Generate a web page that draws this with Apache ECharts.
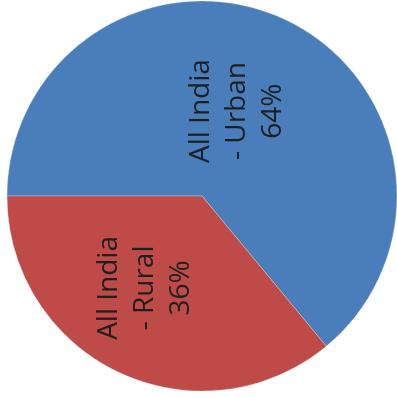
<!DOCTYPE html>
<html>
<head>
<meta charset="utf-8">
<script src="https://cdn.jsdelivr.net/npm/echarts@6/dist/echarts.min.js"></script>
<style>
  html, body { margin: 0; padding: 0; background: #fff; }
  #chart { width: 397px; height: 398px; }
</style>
</head>
<body>
<div id="chart"></div>
<script>
// Share of population by area
const categories = ['All India\n- Urban', 'All India\n- Rural'];
const shares = [64, 36];
const sliceColors = ['#4A7EBB', '#BE4B48'];
// screen-space nudges [right, down] so each label sits toward the slice's centre
const labelNudges = [[-8, 6], [-14, 1]];

const chart = echarts.init(document.getElementById('chart'), null, { renderer: 'canvas' });

chart.setOption({
  animation: false,
  series: [{
    type: 'pie',
    center: [202, 196],
    radius: 195,
    startAngle: 180,
    clockwise: true,
    data: categories.map((name, i) => ({
      name: name,
      value: shares[i],
      itemStyle: { color: sliceColors[i] }
    })),
    itemStyle: { borderColor: 'rgba(255,255,255,0.5)', borderWidth: 0.5 },
    label: {
      position: 'inside',
      rotate: 90,
      formatter: p => p.name + '\n' + p.value + '%',
      fontFamily: 'Open Sans',
      fontSize: 28,
      lineHeight: 36,
      color: '#1f1f1f',
      align: 'center'
    },
    // label offsets are applied in the label's rotated frame (90° ccw)
    labelLayout: p => {
      const [sx, sy] = labelNudges[p.dataIndex];
      return { dx: -sy, dy: sx };
    },
    labelLine: { show: false },
    emphasis: { disabled: true }
  }]
});
</script>
</body>
</html>
